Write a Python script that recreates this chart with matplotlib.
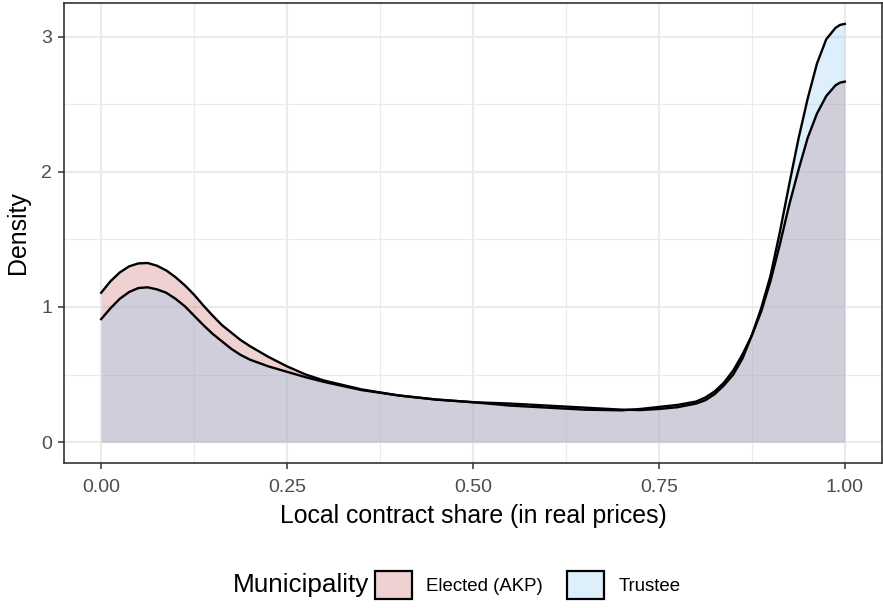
import matplotlib
matplotlib.use("Agg")
import matplotlib.pyplot as plt
from matplotlib.patches import Patch
from matplotlib.ticker import MultipleLocator

plt.rcParams["font.family"] = ["Liberation Sans", "DejaVu Sans"]

# Density estimates
share = [0.0, 0.0125, 0.025, 0.0375, 0.05, 0.0625, 0.075, 0.0875, 0.1, 0.1125,
         0.125, 0.1375, 0.15, 0.1625, 0.175, 0.1875, 0.2, 0.225, 0.25, 0.275,
         0.3, 0.35, 0.4, 0.45, 0.5, 0.55, 0.6, 0.65, 0.7, 0.725,
         0.75, 0.775, 0.8, 0.8125, 0.825, 0.8375, 0.85, 0.8625, 0.875, 0.8875,
         0.9, 0.9125, 0.925, 0.9375, 0.95, 0.9625, 0.975, 0.9875, 0.99375, 1.0]
elected = [1.105, 1.19, 1.255, 1.30, 1.322, 1.325, 1.305, 1.27, 1.22, 1.16,
           1.09, 1.01, 0.935, 0.865, 0.81, 0.755, 0.71, 0.63, 0.56, 0.50,
           0.455, 0.39, 0.345, 0.315, 0.295, 0.27, 0.255, 0.24, 0.235, 0.245,
           0.26, 0.275, 0.30, 0.33, 0.375, 0.44, 0.53, 0.65, 0.79, 0.965,
           1.19, 1.46, 1.75, 2.01, 2.25, 2.43, 2.56, 2.64, 2.66, 2.667]
trustee = [0.91, 0.99, 1.06, 1.11, 1.14, 1.145, 1.13, 1.105, 1.06, 1.005,
           0.935, 0.865, 0.80, 0.745, 0.69, 0.645, 0.61, 0.56, 0.52, 0.48,
           0.445, 0.385, 0.345, 0.315, 0.295, 0.285, 0.27, 0.255, 0.24, 0.237,
           0.245, 0.258, 0.285, 0.31, 0.355, 0.42, 0.50, 0.62, 0.79, 0.99,
           1.23, 1.55, 1.90, 2.24, 2.54, 2.80, 2.98, 3.065, 3.087, 3.094]

groups = ["Elected (AKP)", "Trustee"]
fills = [(202/255, 105/255, 108/255, 0.3), (142/255, 202/255, 245/255, 0.3)]

fig = plt.figure(figsize=(8.83, 6.08), dpi=100)
ax = fig.add_axes([64/883, 145/608, 818/883, 460/608])

for ys, fc in zip([elected, trustee], fills):
    ax.fill_between(share, 0, ys, color=fc, linewidth=0)
    ax.plot(share, ys, color="black", linewidth=1.7, solid_joinstyle="round")

ax.set_xlim(-0.05, 1.05)
ax.set_ylim(-0.1547, 3.0940 + 0.1547)
ax.set_xticks([0, 0.25, 0.5, 0.75, 1.0])
ax.set_xticklabels(["0.00", "0.25", "0.50", "0.75", "1.00"])
ax.set_yticks([0, 1, 2, 3])
ax.xaxis.set_minor_locator(MultipleLocator(0.125))
ax.yaxis.set_minor_locator(MultipleLocator(0.5))
ax.grid(which="major", color="#EBEBEB", linewidth=1.6)
ax.grid(which="minor", color="#EBEBEB", linewidth=0.8)
ax.set_axisbelow(True)
ax.tick_params(which="major", length=4.5, width=1.1, color="#333333",
               labelcolor="#4D4D4D", labelsize=14)
ax.tick_params(axis="x", pad=7)
ax.tick_params(axis="y", pad=4)
ax.tick_params(which="minor", length=0)
for sp in ax.spines.values():
    sp.set_color("#333333")
    sp.set_linewidth(1.2)

ax.set_xlabel("Local contract share (in real prices)", fontsize=17.9, labelpad=6)
ax.set_ylabel("Density", fontsize=17.9, labelpad=8)

# legend at the bottom, title on the left like ggplot
fig.text(233/883, 1 - 585/608, "Municipality", fontsize=18.8, va="center", ha="left")
handles = [Patch(facecolor=fc, edgecolor="black", linewidth=1.6) for fc in fills]
fig.legend(handles, groups, loc="center left", bbox_to_anchor=(375/883, 1 - 585/608),
           ncol=2, frameon=False, fontsize=13.4, handlelength=2.0, handleheight=2.0,
           handletextpad=0.75, columnspacing=1.3, borderaxespad=0, borderpad=0)

fig.savefig("out.png", dpi=100)
